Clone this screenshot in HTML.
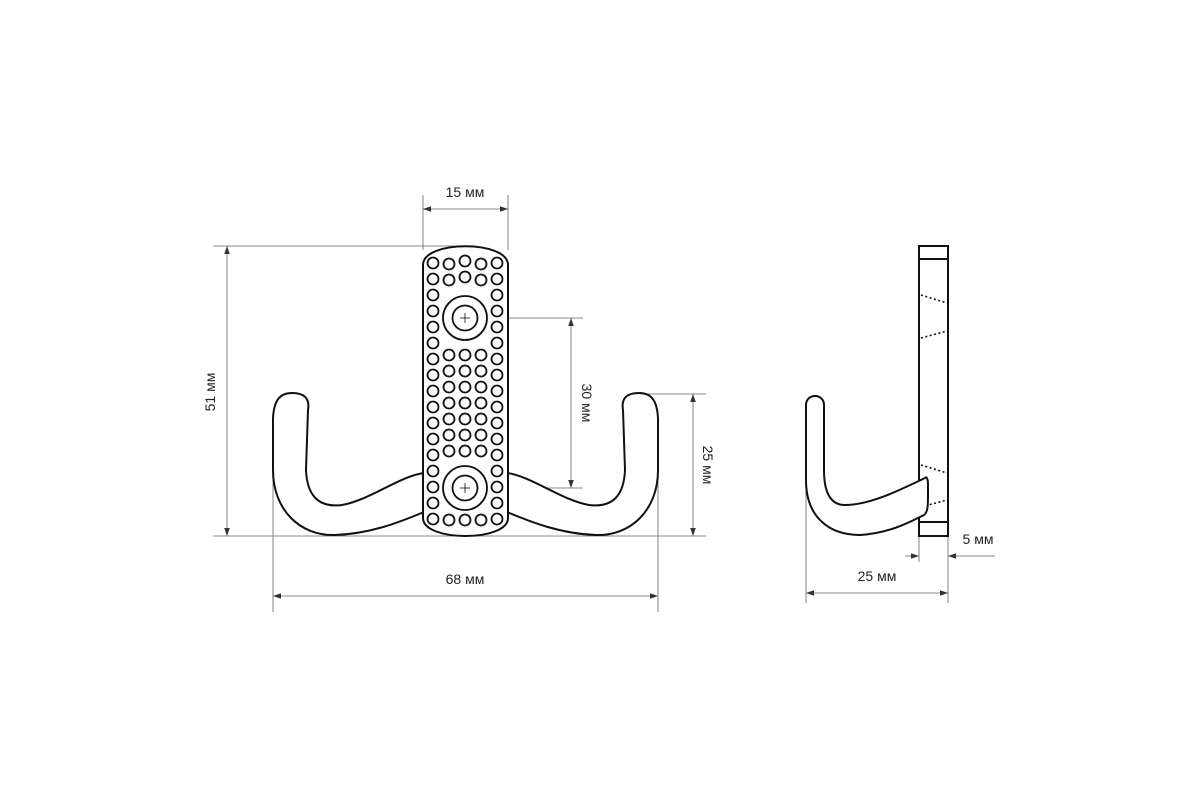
<!DOCTYPE html>
<html><head><meta charset="utf-8"><style>
html,body{margin:0;padding:0;background:#fff;}
svg{display:block;}
text{font-family:"Liberation Sans",sans-serif;font-size:14px;fill:#222;}
</style></head><body>
<svg width="1200" height="800" viewBox="0 0 1200 800" xmlns="http://www.w3.org/2000/svg">
<defs>
<marker id="a" viewBox="0 0 10 10" refX="10" refY="5" markerWidth="8" markerHeight="8" orient="auto-start-reverse" markerUnits="userSpaceOnUse"><path d="M0,1.5 L10,5 L0,8.5 z" fill="#333"/></marker>
</defs>
<g stroke="#666" stroke-width="0.8" fill="none">
<!-- 15 mm -->
<line x1="423" y1="195" x2="423" y2="250"/><line x1="508" y1="195" x2="508" y2="250"/>
<line x1="423" y1="209" x2="508" y2="209" marker-start="url(#a)" marker-end="url(#a)"/>
<!-- 51 mm -->
<line x1="213" y1="246" x2="460" y2="246"/><line x1="213" y1="536" x2="706" y2="536"/>
<line x1="227" y1="246" x2="227" y2="536" marker-start="url(#a)" marker-end="url(#a)"/>
<!-- 30 mm -->
<line x1="465" y1="318" x2="583" y2="318"/><line x1="465" y1="488" x2="583" y2="488"/>
<line x1="571" y1="318" x2="571" y2="488" marker-start="url(#a)" marker-end="url(#a)"/>
<!-- 25 mm -->
<line x1="635" y1="394" x2="706" y2="394"/>
<line x1="693" y1="394" x2="693" y2="536" marker-start="url(#a)" marker-end="url(#a)"/>
<!-- 68 mm -->
<line x1="273" y1="470" x2="273" y2="612"/><line x1="658" y1="470" x2="658" y2="612"/>
<line x1="273" y1="596" x2="658" y2="596" marker-start="url(#a)" marker-end="url(#a)"/>
<!-- side 25 mm -->
<line x1="806" y1="480" x2="806" y2="603"/><line x1="948" y1="536" x2="948" y2="603"/>
<line x1="806" y1="593" x2="948" y2="593" marker-start="url(#a)" marker-end="url(#a)"/>
<!-- 5 mm -->
<line x1="919" y1="536" x2="919" y2="562"/>
<line x1="905" y1="556" x2="919" y2="556" marker-end="url(#a)"/>
<line x1="995" y1="556" x2="948" y2="556" marker-end="url(#a)"/>
</g>
<text x="465" y="197" text-anchor="middle">15 мм</text>
<text transform="translate(215,392) rotate(-90)" text-anchor="middle">51 мм</text>
<text transform="translate(582,403) rotate(90)" text-anchor="middle">30 мм</text>
<text transform="translate(703,465) rotate(90)" text-anchor="middle">25 мм</text>
<text x="465" y="584" text-anchor="middle">68 мм</text>
<text x="877" y="581" text-anchor="middle">25 мм</text>
<text x="978" y="544" text-anchor="middle">5 мм</text>

<g stroke="#111" stroke-width="2" fill="#fff">
<!-- hooks -->
<path id="lh" d="M424,473 C400,476 370,500 342,505 C318,508 307,495 306,470 L308,410 C310,398 304,393 292,393 C280,393 274,400 273,418 L273,470 C273,510 300,536 335,535 C370,534 400,522 424,512"/>
<path d="M424,473 C400,476 370,500 342,505 C318,508 307,495 306,470 L308,410 C310,398 304,393 292,393 C280,393 274,400 273,418 L273,470 C273,510 300,536 335,535 C370,534 400,522 424,512" transform="translate(931,0) scale(-1,1)"/>
<!-- plate -->
<path d="M423,265 C423,240 508,240 508,265 L508,518 C508,542 423,542 423,518 Z"/>
</g>
<g stroke="#111" stroke-width="1.8" fill="none">
<g id="c">
</g>
</g>
<g stroke="#111" stroke-width="1.8" fill="none">
<!-- outer columns -->
<circle cx="433" cy="263" r="5.5"/><circle cx="497" cy="263" r="5.5"/>
<circle cx="433" cy="279" r="5.5"/><circle cx="497" cy="279" r="5.5"/>
<circle cx="433" cy="295" r="5.5"/><circle cx="497" cy="295" r="5.5"/>
<circle cx="433" cy="311" r="5.5"/><circle cx="497" cy="311" r="5.5"/>
<circle cx="433" cy="327" r="5.5"/><circle cx="497" cy="327" r="5.5"/>
<circle cx="433" cy="343" r="5.5"/><circle cx="497" cy="343" r="5.5"/>
<circle cx="433" cy="359" r="5.5"/><circle cx="497" cy="359" r="5.5"/>
<circle cx="433" cy="375" r="5.5"/><circle cx="497" cy="375" r="5.5"/>
<circle cx="433" cy="391" r="5.5"/><circle cx="497" cy="391" r="5.5"/>
<circle cx="433" cy="407" r="5.5"/><circle cx="497" cy="407" r="5.5"/>
<circle cx="433" cy="423" r="5.5"/><circle cx="497" cy="423" r="5.5"/>
<circle cx="433" cy="439" r="5.5"/><circle cx="497" cy="439" r="5.5"/>
<circle cx="433" cy="455" r="5.5"/><circle cx="497" cy="455" r="5.5"/>
<circle cx="433" cy="471" r="5.5"/><circle cx="497" cy="471" r="5.5"/>
<circle cx="433" cy="487" r="5.5"/><circle cx="497" cy="487" r="5.5"/>
<circle cx="433" cy="503" r="5.5"/><circle cx="497" cy="503" r="5.5"/>
<circle cx="433" cy="519" r="5.5"/><circle cx="497" cy="519" r="5.5"/>
<!-- inner top rows -->
<circle cx="449" cy="264" r="5.5"/><circle cx="465" cy="261" r="5.5"/><circle cx="481" cy="264" r="5.5"/>
<circle cx="449" cy="280" r="5.5"/><circle cx="465" cy="277" r="5.5"/><circle cx="481" cy="280" r="5.5"/>
<!-- inner middle rows -->
<circle cx="449" cy="355" r="5.5"/><circle cx="465" cy="355" r="5.5"/><circle cx="481" cy="355" r="5.5"/>
<circle cx="449" cy="371" r="5.5"/><circle cx="465" cy="371" r="5.5"/><circle cx="481" cy="371" r="5.5"/>
<circle cx="449" cy="387" r="5.5"/><circle cx="465" cy="387" r="5.5"/><circle cx="481" cy="387" r="5.5"/>
<circle cx="449" cy="403" r="5.5"/><circle cx="465" cy="403" r="5.5"/><circle cx="481" cy="403" r="5.5"/>
<circle cx="449" cy="419" r="5.5"/><circle cx="465" cy="419" r="5.5"/><circle cx="481" cy="419" r="5.5"/>
<circle cx="449" cy="435" r="5.5"/><circle cx="465" cy="435" r="5.5"/><circle cx="481" cy="435" r="5.5"/>
<circle cx="449" cy="451" r="5.5"/><circle cx="465" cy="451" r="5.5"/><circle cx="481" cy="451" r="5.5"/>
<!-- bottom row -->
<circle cx="449" cy="520" r="5.5"/><circle cx="465" cy="520" r="5.5"/><circle cx="481" cy="520" r="5.5"/>
<!-- screw holes -->
<circle cx="465" cy="318" r="22"/><circle cx="465" cy="318" r="12.5"/>
<circle cx="465" cy="488" r="22"/><circle cx="465" cy="488" r="12.5"/>
</g>
<g stroke="#111" stroke-width="0.8">
<line x1="460" y1="318" x2="470" y2="318"/><line x1="465" y1="313" x2="465" y2="323"/>
<line x1="460" y1="488" x2="470" y2="488"/><line x1="465" y1="483" x2="465" y2="493"/>
</g>

<!-- side view -->
<g stroke="#111" stroke-width="2" fill="#fff">
<rect x="919" y="246" width="29" height="290"/>
<line x1="919" y1="259" x2="948" y2="259"/>
<line x1="919" y1="522" x2="948" y2="522"/>
</g>
<g stroke="#111" stroke-width="1.6" stroke-dasharray="2,2.5" fill="none">
<line x1="921" y1="295" x2="947" y2="303"/>
<line x1="921" y1="338" x2="947" y2="331"/>
<line x1="921" y1="465" x2="947" y2="473"/>
<line x1="921" y1="507" x2="947" y2="500"/>
</g>
<path d="M925,478 C900,490 870,505 845,505 C830,505 824,492 824,470 L824,405 C824,393 806,393 806,405 L806,480 C806,518 830,535 860,535 C890,533 910,522 924,515 C928,512 928,505 928,495 L928,484 C928,478 926,476 925,478 Z" stroke="#111" stroke-width="2" fill="#fff"/>
</svg>
</body></html>
